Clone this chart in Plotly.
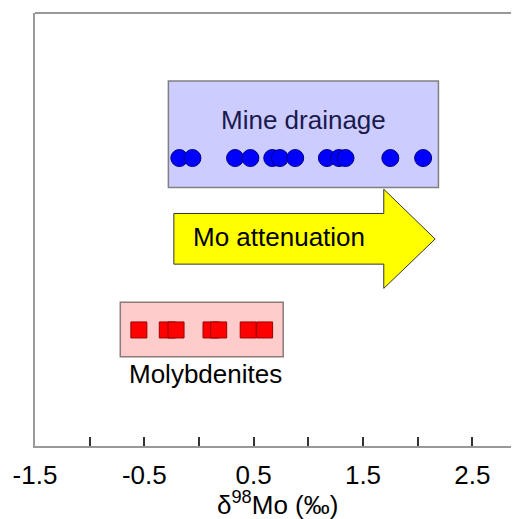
import plotly.graph_objects as go

# Data (delta98Mo, permil)
mine_drainage = [-0.18, -0.06, 0.33, 0.47, 0.67, 0.74, 0.88, 1.17, 1.28, 1.34, 1.75, 2.05]
molybdenites = [-0.55, -0.29, -0.21, 0.11, 0.18, 0.45, 0.60]
tick_vals = [-1.5, -1.0, -0.5, 0.0, 0.5, 1.0, 1.5, 2.0, 2.5]
tick_text = ["-1.5", "", "-0.5", "", "0.5", "", "1.5", "", "2.5"]

FONT = "Liberation Sans, Arial, sans-serif"
y_mine = 6.65
y_moly = 2.68

fig = go.Figure()

shapes = [
    dict(type="rect", xref="x", yref="y", x0=-0.28, x1=2.19, y0=5.97, y1=8.43,
         fillcolor="#ccccff", line=dict(color="#808080", width=1.5), layer="below"),
    dict(type="rect", xref="x", yref="y", x0=-0.72, x1=0.77, y0=2.06, y1=3.32,
         fillcolor="#ffcccc", line=dict(color="#8c7a7a", width=1.5), layer="below"),
    dict(type="path", xref="x", yref="y",
         path="M -0.23 5.37 L 1.69 5.37 L 1.69 5.93 L 2.16 4.78 L 1.69 3.64 L 1.69 4.20 L -0.23 4.20 Z",
         fillcolor="#ffff00", line=dict(color="#333333", width=1), layer="below"),
    dict(type="line", xref="paper", yref="paper", x0=0, x1=1, y0=1, y1=1,
         line=dict(color="#999999", width=2)),
]

fig.add_trace(go.Scatter(
    x=mine_drainage, y=[y_mine] * len(mine_drainage), mode="markers",
    marker=dict(symbol="circle", size=17, color="#0000ff",
                line=dict(color="#000080", width=1)),
    hoverinfo="x", showlegend=False))

fig.add_trace(go.Scatter(
    x=molybdenites, y=[y_moly] * len(molybdenites), mode="markers",
    marker=dict(symbol="square", size=16, color="#ff0000",
                line=dict(color="#990000", width=1)),
    hoverinfo="x", showlegend=False))

annotations = [
    dict(x=0.955, y=7.54, xref="x", yref="y", text="Mine drainage", showarrow=False,
         font=dict(family=FONT, size=26, color="#1a1a4d"), xanchor="center", yanchor="middle"),
    dict(x=0.73, y=4.83, xref="x", yref="y", text="Mo attenuation", showarrow=False,
         font=dict(family=FONT, size=26, color="#000000"), xanchor="center", yanchor="middle"),
    dict(x=0.06, y=1.66, xref="x", yref="y", text="Molybdenites", showarrow=False,
         font=dict(family=FONT, size=26, color="#000000"), xanchor="center", yanchor="middle"),
    dict(x=0.72, y=-0.133, xref="x", yref="paper", text="δ<sup>98</sup>Mo (‰)", showarrow=False,
         font=dict(family=FONT, size=26, color="#000000"), xanchor="center", yanchor="middle"),
]

# The page body has an 8px default margin, so the figure starts at (8, 8);
# the plot runs past the right edge of the window, as in the cropped original.
fig.update_layout(
    width=519, height=511,
    margin=dict(l=27, r=0, t=5, b=73, autoexpand=False),
    paper_bgcolor="white", plot_bgcolor="white",
    shapes=shapes, annotations=annotations,
    font=dict(family=FONT, color="#000000"),
    xaxis=dict(range=[-1.5, 3.0], tickvals=tick_vals, ticktext=tick_text,
               ticks="inside", ticklen=9, tickwidth=1.5, tickcolor="#333333",
               showline=True, linecolor="#999999", linewidth=2,
               showgrid=False, zeroline=False, automargin=False,
               ticklabelstandoff=5,
               tickfont=dict(family=FONT, size=26, color="#000000")),
    yaxis=dict(range=[0, 10], showticklabels=False, ticks="",
               showline=True, linecolor="#999999", linewidth=2,
               showgrid=False, zeroline=False, automargin=False),
)

fig.write_html("out.html")
